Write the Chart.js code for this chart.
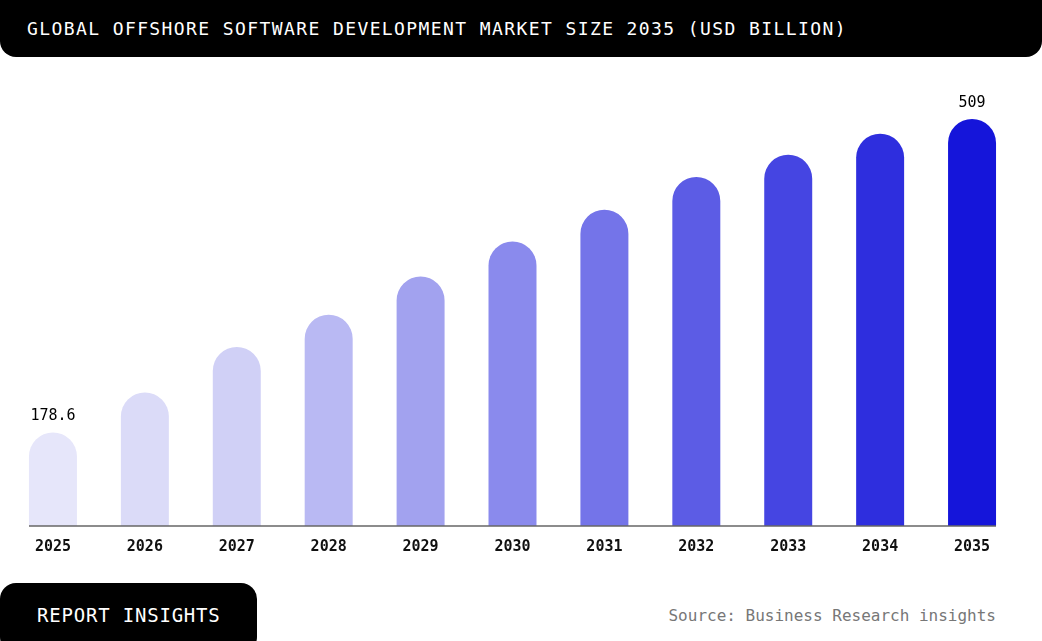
<!DOCTYPE html>
<html lang="en">
<head>
    <meta charset="UTF-8">
    <title>Global Offshore Software Development Market Size 2035</title>
    <script src="https://cdn.jsdelivr.net/npm/chart.js"></script>
    <style>
        html, body { margin: 0; padding: 0; background: #fff; }
        body { width: 1042px; height: 641px; position: relative; overflow: hidden; font-family: "DejaVu Sans Mono", monospace; }
        .title-bar {
            position: absolute; left: 0; top: 0; width: 1042px; height: 57px;
            background: #000; border-radius: 0 0 16px 16px;
            color: #fff; font-size: 18px; letter-spacing: 1.4px;
            line-height: 57px; padding-left: 27px; box-sizing: border-box; white-space: nowrap;
        }
        .chart-box { position: absolute; left: 0; top: 60px; width: 1042px; height: 520px; }
        .report-tag {
            position: absolute; left: 0; top: 583px; width: 257px; height: 70px;
            background: #000; border-radius: 16px;
            color: #fff; font-size: 19px; letter-spacing: 0.8px;
            line-height: 64px; padding-left: 37px; box-sizing: border-box; white-space: nowrap;
        }
        .source {
            position: absolute; right: 46px; top: 606px;
            color: #777; font-size: 16px; white-space: nowrap;
        }
    </style>
</head>
<body>
    <div class="title-bar">GLOBAL OFFSHORE SOFTWARE DEVELOPMENT MARKET SIZE 2035 (USD BILLION)</div>

    <div class="chart-box">
        <canvas id="marketChart"></canvas>
    </div>

    <div class="report-tag">REPORT INSIGHTS</div>
    <div class="source">Source: Business Research insights</div>

    <script>
        // data
        const years = ['2025', '2026', '2027', '2028', '2029', '2030', '2031', '2032', '2033', '2034', '2035'];
        const marketSize = [178.6, 220.7, 268.6, 302.7, 343.0, 379.9, 413.4, 447.8, 471.3, 493.5, 509];
        const barColors = ['#e6e6fa', '#dbdbf8', '#d0d0f6', '#b9b9f3', '#a2a2ef', '#8a8aed',
                           '#7474e9', '#5c5ce5', '#4545e2', '#2e2ede', '#1515da'];
        const valueLabels = ['178.6', '', '', '', '', '', '', '', '', '', '509'];

        // baseline under the bars + value labels on first/last bar
        const baselinePlugin = {
            id: 'baseline',
            afterDatasetsDraw(chart) {
                const ctx = chart.ctx;
                const bars = chart.getDatasetMeta(0).data;
                const first = bars[0], last = bars[bars.length - 1];
                const y = chart.chartArea.bottom;
                ctx.save();
                ctx.strokeStyle = '#666';
                ctx.lineWidth = 1.5;
                ctx.beginPath();
                ctx.moveTo(first.x - first.width / 2, y);
                ctx.lineTo(last.x + last.width / 2, y);
                ctx.stroke();

                ctx.fillStyle = '#000';
                ctx.font = '15px "DejaVu Sans Mono"';
                ctx.textAlign = 'center';
                ctx.textBaseline = 'alphabetic';
                bars.forEach((bar, i) => {
                    if (valueLabels[i]) ctx.fillText(valueLabels[i], bar.x, bar.y - 12);
                });
                ctx.restore();
            }
        };

        const ctx = document.getElementById('marketChart').getContext('2d');
        new Chart(ctx, {
            type: 'bar',
            data: {
                labels: years,
                datasets: [{
                    data: marketSize,
                    backgroundColor: barColors,
                    borderRadius: 24,
                    borderSkipped: 'start',
                    barPercentage: 0.522,
                    categoryPercentage: 1
                }]
            },
            options: {
                responsive: true,
                maintainAspectRatio: false,
                animation: false,
                layout: { padding: { top: 39, bottom: 10, left: 7, right: 24 } },
                scales: {
                    x: {
                        grid: { display: false, drawTicks: false },
                        border: { display: false },
                        ticks: {
                            color: '#111',
                            padding: 12,
                            font: { family: '"DejaVu Sans Mono"', size: 15, weight: 'bold' }
                        },
                        afterFit(scale) { scale.height = 44; }
                    },
                    y: { display: false, min: 80, max: 530 }
                },
                plugins: {
                    legend: { display: false },
                    tooltip: { enabled: false }
                }
            },
            plugins: [baselinePlugin]
        });
    </script>
</body>
</html>
